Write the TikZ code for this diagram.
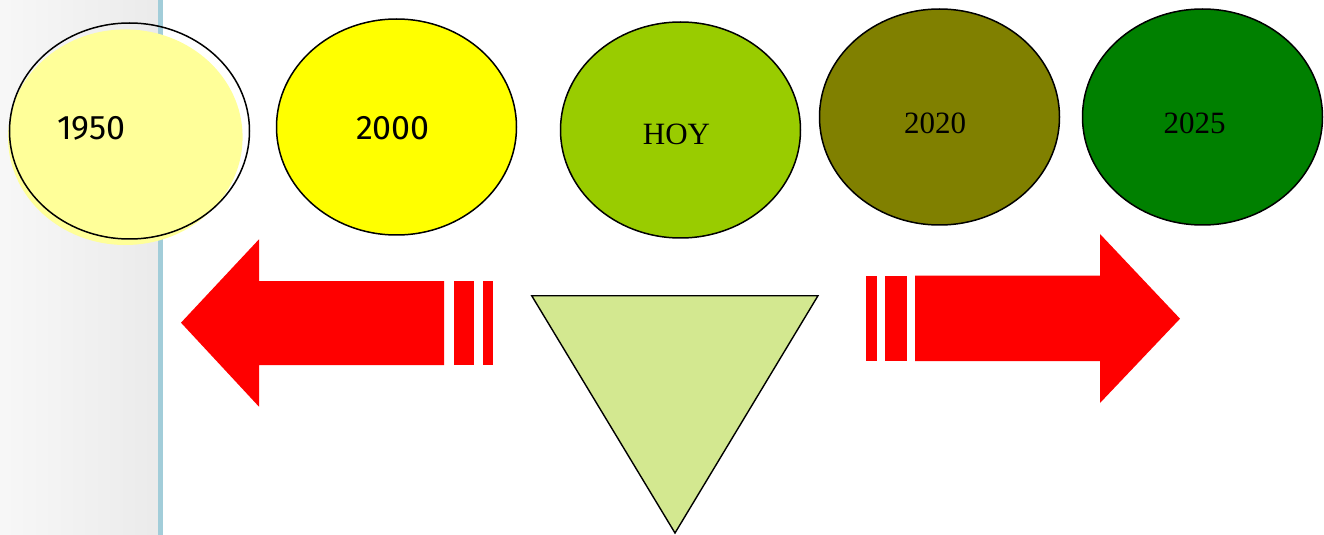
\documentclass[tikz,border=0pt]{standalone}
\usepackage{fontspec}
\setmainfont{Liberation Serif}
\newfontfamily\yearsans{Fira Sans}
\definecolor{y1950}{HTML}{FFFF99}
\definecolor{y2000}{HTML}{FFFF00}
\definecolor{yhoy}{HTML}{99CC00}
\definecolor{y2020}{HTML}{808000}
\definecolor{y2025}{HTML}{008000}
\definecolor{tri}{HTML}{D3E890}
\definecolor{stripline}{HTML}{A2CDD9}
\usetikzlibrary{
  positioning,     % right=of between the years
  shapes.geometric % ellipse
}
\tikzset{
    node distance=12pt,
    year/.style = {
        ellipse,
        draw,
        line width=0.75pt,
        minimum width=120pt,
        minimum height=108pt,
        inner sep=0pt,
        outer sep=0pt
    },
    sanstext/.style = {font=\yearsans\fontsize{17}{17}\selectfont, inner sep=0pt},
    seriftext/.style = {font=\fontsize{15.5}{15.5}\selectfont, inner sep=0pt},
    bigarrow/.style = {fill=red},
    back/.style = {fill=tri, draw, line width=0.7pt, line join=miter}
}

\begin{document}
\begin{tikzpicture}[x=0.5pt,y=-0.5pt]
  \useasboundingbox (0,0) rectangle (1324,535);

  %% side strip
  \shade[left color=black!3, right color=black!8] (0,0) rectangle (158,535);
  \fill[stripline] (158,0) rectangle (163,535);

  %% years
  \fill[y1950] (125.3,137.2) ellipse [x radius=117.3, y radius=107.8];
  \node [year] (e1950) at (129.5,131) {};
  \node [year, fill=y2000, right=13.5pt of e1950, yshift=2pt] (e2000) {};
  \node [year, fill=yhoy, right=22pt of e2000, yshift=-1.5pt] (ehoy) {};
  \node [year, fill=y2020, right=9.5pt of ehoy, yshift=6.5pt] (e2020) {};
  \node [year, fill=y2025, right=11.5pt of e2020] (e2025) {};

  \node [sanstext] (t1950) at ([shift={(-38,-3)}]e1950.center) {1950};
  \node [sanstext] (t2000) at ([shift={(-3.5,1.5)}]e2000.center) {2000};
  \node [seriftext] (thoy) at ([shift={(-4,4.5)}]ehoy.center) {HOY};
  \node [seriftext] (t2020) at ([shift={(-4.5,6.5)}]e2020.center) {2020};
  \node [seriftext] (t2025) at ([shift={(-8,6.5)}]e2025.center) {2025};

  %% arrow to the past
  \fill[bigarrow] (181,322.7) -- (259,239.3) -- (259,281) -- (444,281)
    -- (444,365) -- (259,365) -- (259,406.7) -- cycle;
  \fill[bigarrow] (454,281) rectangle (474,365);
  \fill[bigarrow] (483,281) rectangle (493,365);

  %% arrow to the future
  \fill[bigarrow] (1180,318.7) -- (1100,234) -- (1100,275.7) -- (915,275.7)
    -- (915,361) -- (1100,361) -- (1100,403) -- cycle;
  \fill[bigarrow] (866,275.7) rectangle (877,361);
  \fill[bigarrow] (885,275.7) rectangle (907,361);

  %% today
  \draw[back] (531.7,295.7) -- (818,295.7) -- (675,533) -- cycle;

\end{tikzpicture}
\end{document}
